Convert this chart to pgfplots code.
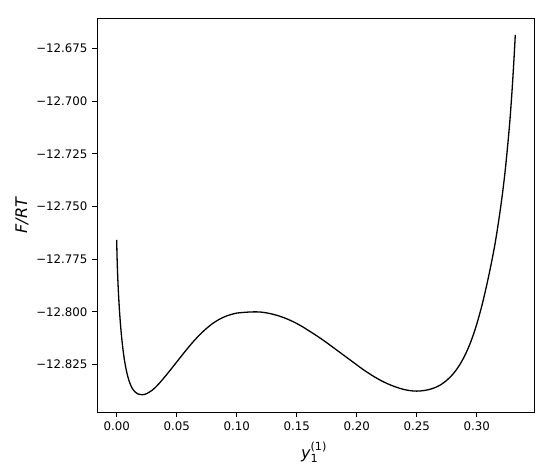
\documentclass[border=0pt]{standalone}
\usepackage{fontspec}
\setmainfont{DejaVu Sans}
\usepackage{amsmath}
\usepackage{pgfplots}
\pgfplotsset{compat=1.18}
\begin{document}
\begin{tikzpicture}[x=1pt,y=1pt]
\path[use as bounding box] (-97,-61) rectangle (453,412);
\begin{axis}[
  at={(0,0)}, anchor=south west,
  scale only axis, width=437pt, height=394pt,
  xmin=-0.0164, xmax=0.3478, ymin=-12.8475, ymax=-12.6606,
  xtick={0,0.05,0.10,0.15,0.20,0.25,0.30},
  xticklabels={0.00,0.05,0.10,0.15,0.20,0.25,0.30},
  ytick={-12.825,-12.800,-12.775,-12.750,-12.725,-12.700,-12.675},
  yticklabels={−12.825,−12.800,−12.775,−12.750,−12.725,−12.700,−12.675},
  scaled x ticks=false, scaled y ticks=false,
  xtick pos=left, ytick pos=left,
  tick align=outside, major tick length=5pt,
  tick style={black, line width=0.8pt},
  axis line style={line width=0.8pt},
  ticklabel style={font=\fontsize{11.8}{14}\selectfont},
  xticklabel style={yshift=-1pt},
  yticklabel style={xshift=-1pt},
  xlabel={$\textit{y}_{\text{1}}^{\text{(1)}}$},
  xlabel style={at={(axis description cs:0.4966,-0.1168)}, anchor=base, font=\fontsize{16}{19}\selectfont},
  ylabel={\textit{F/RT}},
  ylabel style={at={(axis description cs:-0.1716,0.5)}, anchor=center, font=\fontsize{16}{19}\selectfont},
]
\addplot[black, line width=1.3pt, smooth, tension=0.5] coordinates {
(0.0000,-12.7658)
(0.0003,-12.7737)
(0.0006,-12.7792)
(0.0010,-12.7851)
(0.0015,-12.7912)
(0.0022,-12.7982)
(0.0030,-12.8047)
(0.0040,-12.8113)
(0.0052,-12.8176)
(0.0066,-12.8233)
(0.0083,-12.8284)
(0.0103,-12.8327)
(0.0125,-12.8358)
(0.0150,-12.8378)
(0.0180,-12.8390)
(0.0208,-12.8393)
(0.0230,-12.8392)
(0.0250,-12.8388)
(0.0300,-12.8370)
(0.0350,-12.8342)
(0.0400,-12.8309)
(0.0450,-12.8274)
(0.0500,-12.8238)
(0.0550,-12.8202)
(0.0600,-12.8167)
(0.0650,-12.8134)
(0.0700,-12.8104)
(0.0750,-12.8078)
(0.0800,-12.8055)
(0.0850,-12.8037)
(0.0900,-12.8023)
(0.0950,-12.8013)
(0.1000,-12.8006)
(0.1050,-12.8003)
(0.1100,-12.8001)
(0.1150,-12.8000)
(0.1200,-12.8001)
(0.1250,-12.8005)
(0.1300,-12.8011)
(0.1350,-12.8019)
(0.1400,-12.8029)
(0.1450,-12.8041)
(0.1500,-12.8055)
(0.1550,-12.8071)
(0.1600,-12.8089)
(0.1650,-12.8107)
(0.1700,-12.8126)
(0.1750,-12.8146)
(0.1800,-12.8167)
(0.1850,-12.8188)
(0.1900,-12.8209)
(0.1950,-12.8230)
(0.2000,-12.8251)
(0.2050,-12.8272)
(0.2100,-12.8291)
(0.2150,-12.8309)
(0.2200,-12.8325)
(0.2250,-12.8339)
(0.2300,-12.8351)
(0.2350,-12.8361)
(0.2400,-12.8369)
(0.2450,-12.8374)
(0.2500,-12.8376)
(0.2550,-12.8374)
(0.2600,-12.8369)
(0.2650,-12.8360)
(0.2700,-12.8346)
(0.2750,-12.8325)
(0.2800,-12.8297)
(0.2850,-12.8259)
(0.2900,-12.8209)
(0.2950,-12.8144)
(0.3000,-12.8060)
(0.3050,-12.7956)
(0.3100,-12.7831)
(0.3147,-12.7697)
(0.3180,-12.7582)
(0.3210,-12.7462)
(0.3235,-12.7345)
(0.3256,-12.7227)
(0.3275,-12.7107)
(0.3290,-12.6993)
(0.3301,-12.6898)
(0.3311,-12.6803)
(0.3317,-12.6741)
(0.3322,-12.6686)
};
\end{axis}
\end{tikzpicture}
\end{document}
